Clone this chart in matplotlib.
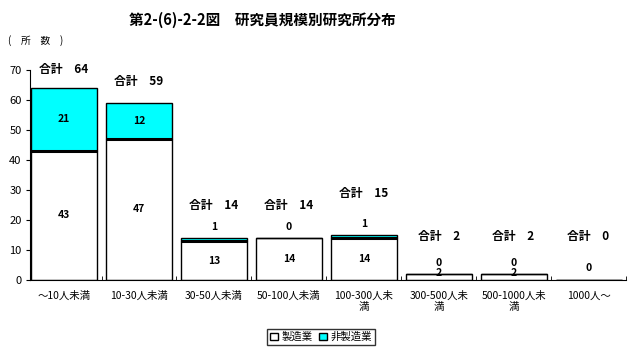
import matplotlib.pyplot as plt
import numpy as np

plt.rcParams['font.family'] = ['Noto Sans CJK JP', 'DejaVu Sans']

categories = ["～10人未満", "10-30人未満", "30-50人未満", "50-100人未満",
              "100-300人未\n満", "300-500人未\n満", "500-1000人未\n満", "1000人～"]
manufacturing = [43, 47, 13, 14, 14, 2, 2, 0]
non_manufacturing = [21, 12, 1, 0, 1, 0, 0, 0]
totals = [64, 59, 14, 14, 15, 2, 2, 0]
total_label_y = [70, 66, 25, 25, 29, 14.5, 14.5, 14.5]

fig = plt.figure(figsize=(6.39, 3.55), dpi=100)
ax = fig.add_axes([30 / 639, 75 / 355, 596 / 639, 210 / 355])

x = np.arange(len(categories))
w = 0.88
ax.bar(x, manufacturing, width=w, color="white", edgecolor="black", linewidth=1, label="製造業")
ax.bar(x, non_manufacturing, width=w, bottom=manufacturing, color="#00FFFF",
       edgecolor="black", linewidth=1, label="非製造業")

# 境界の太線
for i, (m, n) in enumerate(zip(manufacturing, non_manufacturing)):
    if n > 0:
        ax.hlines(m, i - w / 2, i + w / 2, color="black", linewidth=2.2, zorder=3)

for i, (m, n, t, ty) in enumerate(zip(manufacturing, non_manufacturing, totals, total_label_y)):
    if t == 0:
        ax.text(i, 4, "0", ha="center", va="center", fontsize=7.5, fontweight="bold")
    else:
        ax.text(i, max(m / 2, 2.3), str(m), ha="center", va="center", fontsize=7.5, fontweight="bold")
        ny = m + n / 2 if n >= 5 else t + 3.6
        ax.text(i, ny, str(n), ha="center", va="center", fontsize=7.5, fontweight="bold")
    ax.text(i, ty, f"合計　{t}", ha="center", va="center", fontsize=8.5, fontweight="bold")

ax.set_xlim(-0.455, 7.49)
ax.set_ylim(0, 70)
ax.set_yticks(range(0, 71, 10))
ax.set_xticks(x)
ax.set_xticklabels(categories, fontsize=7.5, linespacing=1.15)
ax.set_xticks(np.arange(0.5, len(categories)), minor=True)
ax.tick_params(axis="x", which="major", length=0, pad=8)
ax.tick_params(axis="x", which="minor", length=3, direction="in")
ax.tick_params(axis="y", labelsize=8, length=3, pad=3)
ax.spines["top"].set_visible(False)
ax.spines["right"].set_visible(False)

fig.text(262 / 639, 1 - 20 / 355, "第2-(6)-2-2図　研究員規模別研究所分布", ha="center", va="center",
         fontsize=10.5, fontweight="bold")
fig.text(0.012, 1 - 41 / 355, "(　所　数　)", ha="left", va="center", fontsize=7)

leg = fig.legend(loc="center", bbox_to_anchor=(321 / 639, 1 - 337 / 355), ncol=2,
                 fontsize=7.5, frameon=True, fancybox=False, edgecolor="black",
                 handlelength=0.8, handleheight=0.8, handletextpad=0.3, columnspacing=0.6,
                 borderpad=0.3)
leg.get_frame().set_linewidth(1)

fig.savefig("out.png", dpi=100)
